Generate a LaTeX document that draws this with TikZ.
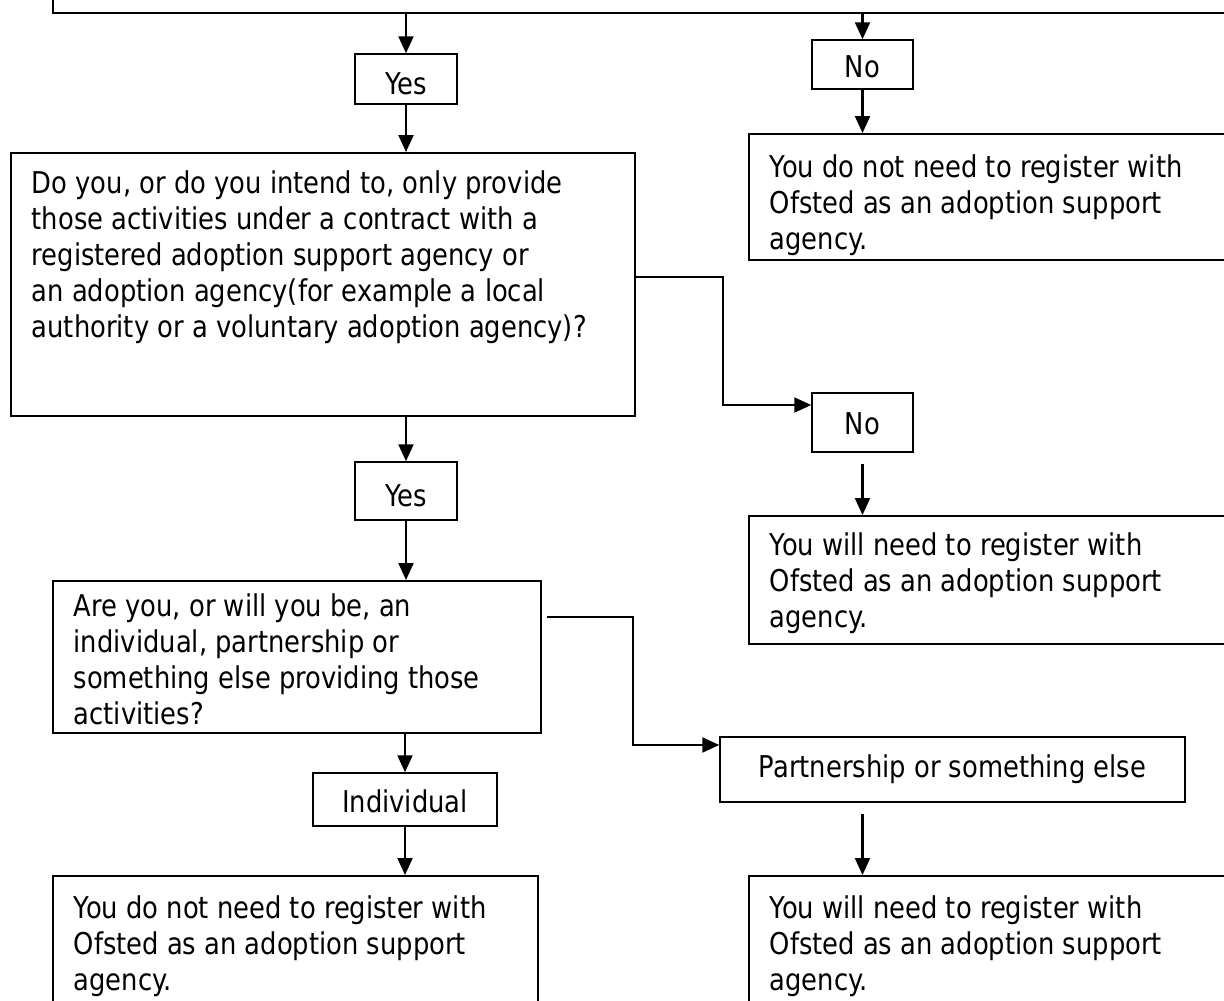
\documentclass[tikz,border=0pt]{standalone}
\usepackage{fontspec}
\setmainfont{DejaVu Sans}[FakeStretch=0.86]
\usetikzlibrary{arrows.meta,calc}
\newcommand{\boxtext}[4]{\parbox[c][#1][t]{#2}{\leftskip=21pt\rule{0pt}{#3}#4}}
\begin{document}
\begin{tikzpicture}[x=1pt,y=-1pt,
  every node/.style={font=\fontsize{30}{36}\selectfont},
  box/.style={draw, line width=1.5pt, inner sep=0pt},
  small/.style={box, text height=26pt, text depth=0pt},
  big/.style={box, anchor=north west},
  arr/.style={line width=2.2pt, -{Triangle[length=17pt,width=15pt]}}]
\useasboundingbox (0,0) rectangle (1224,1001);
\clip (0,0) rectangle (1224,1001);
% top (cut) box
\node[draw, line width=2pt, inner sep=0pt, anchor=north west, minimum width=1200pt, minimum height=70pt] (top) at (52,-58) {};
% left column
\node[small, text height=31pt, minimum width=102pt, minimum height=50pt] (yes1) at (406,79) {Yes};
\node[big] (q2) at (10,152) {\boxtext{263pt}{624pt}{41pt}{Do you, or do you intend to, only provide\\those activities under a contract with a\\registered adoption support agency or\\an adoption agency(for example a local\\authority or a voluntary adoption agency)?}};
\node[small, text height=31pt, minimum width=102pt, minimum height=58pt] (yes2) at (406,491) {Yes};
\node[big] (q3) at (52,580) {\boxtext{152pt}{488pt}{36pt}{Are you, or will you be, an\\individual, partnership or\\something else providing those\\activities?}};
\node[small, minimum width=184pt, minimum height=53pt] (indiv) at (405,799.5) {Individual};
\node[big] (ydn2) at (52,875) {\boxtext{160pt}{485pt}{43pt}{You do not need to register with\\Ofsted as an adoption support\\agency.}};
% right column
\node[small, minimum width=101pt, minimum height=49pt] (no1) at (862.5,64.5) {No};
\node[big] (ydn1) at (748,133) {\boxtext{126pt}{500pt}{44pt}{You do not need to register with\\Ofsted as an adoption support\\agency.}};
\node[small, text height=23pt, minimum width=101pt, minimum height=59pt] (no2) at (862.5,422.5) {No};
\node[big] (yw1) at (748,515) {\boxtext{128pt}{500pt}{40pt}{You will need to register with\\Ofsted as an adoption support\\agency.}};
\node[small, text height=15pt, minimum width=465pt, minimum height=65pt] (part) at (952.5,769.5) {Partnership or something else};
\node[big] (yw2) at (748,875) {\boxtext{160pt}{500pt}{43pt}{You will need to register with\\Ofsted as an adoption support\\agency.}};
% free ends of the two detached arrows
\coordinate (n2s) at ($(no2.south)+(0,11)$);
\coordinate (pts) at ($(part.south -| no2.south)+(0,11)$);
% connectors
\draw[arr] (yes1.north |- top.south) -- (yes1.north);
\draw[arr] (no1.north |- top.south) -- (no1.north);
\draw[arr] (yes1.south) -- (yes1.south |- q2.north);
\draw[arr] (no1.south) -- (no1.south |- ydn1.north);
\draw[arr] (q2.south -| yes2.north) -- (yes2.north);
\draw[arr] (yes2.south) -- (yes2.south |- q3.north);
\draw[arr] (q3.south -| indiv.north) -- (indiv.north);
\draw[arr] (indiv.south) -- (indiv.south |- ydn2.north);
\draw[arr, line join=miter] (q2.east |- 0,277) -- (723,277) |- (no2.west |- 0,405);
\draw[arr] (n2s) -- (n2s |- yw1.north);
\draw[arr, line join=miter] ($(q3.east |- 0,617)+(5,0)$) -- (633,617) |- (part.west |- 0,745);
\draw[arr] (pts) -- (pts |- yw2.north);
\end{tikzpicture}
\end{document}
